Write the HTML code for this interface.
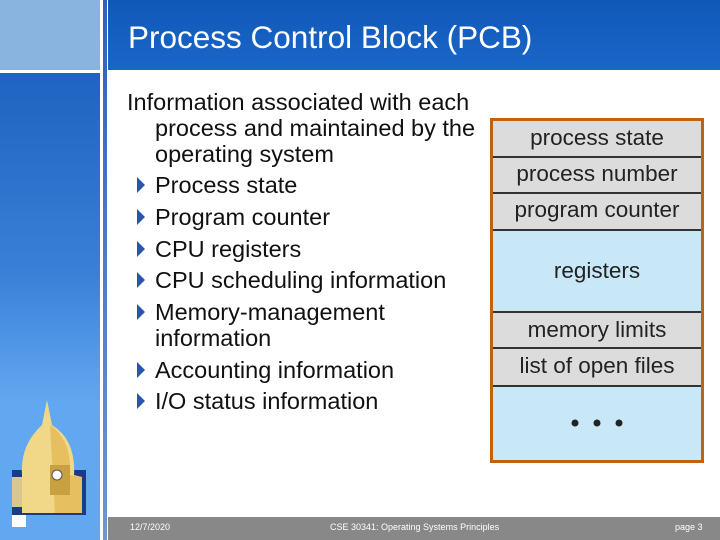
<!DOCTYPE html>
<html><head><style>
*{margin:0;padding:0}
body{width:720px;height:540px;position:relative;background:#fff;overflow:hidden;font-family:"Liberation Sans",sans-serif}
.a{position:absolute}
.t{position:absolute;font-size:23.5px;color:#111;white-space:nowrap;line-height:26px}
.b{position:absolute;width:0;height:0;border-top:8px solid transparent;border-bottom:8px solid transparent;border-left:8px solid #2a55a8}
.r{position:absolute;left:0;width:208px;text-align:center;font-size:22.5px;color:#222;border-bottom:2px solid #333;box-sizing:border-box}
</style></head><body>
<div class="a" style="left:0;top:0;width:100px;height:70px;background:#8ab4e0"></div>
<div class="a" style="left:0;top:73px;width:100px;height:467px;background:linear-gradient(#1e64c0 0px,#3a80d8 200px,#62a8f0 330px,#62a8f0 467px)"></div>
<div class="a" style="left:103px;top:0;width:4px;height:540px;background:linear-gradient(#2a64b8,#6a98d0)"></div>
<div class="a" style="left:108px;top:0;width:612px;height:70px;background:linear-gradient(#1058b8,#1a66c8)"></div>
<div class="a" style="left:128px;top:19px;font-size:31.5px;color:#fff;white-space:nowrap">Process Control Block (PCB)</div>
<svg class="a" style="left:10px;top:395px" width="80" height="135">
<rect x="2" y="120" width="14" height="12" fill="#fff"/>
<rect x="2" y="75" width="74" height="45" fill="#1a3a8a"/>
<rect x="2" y="82" width="10" height="30" fill="#d8c890"/>
<path d="M37 5 L42 30 Q66 45 64 80 L72 82 L72 118 L12 118 L12 80 Q10 50 32 30 Z" fill="#f0d888"/>
<path d="M40 30 Q62 45 60 80 L72 82 L72 118 L45 118 Z" fill="#e6c060"/>
<rect x="40" y="70" width="20" height="30" fill="#c8a040"/>
<circle cx="47" cy="80" r="5" fill="#fff" stroke="#555"/>
</svg>
<div class="t" style="left:127px;top:89px">Information associated with each</div>
<div class="t" style="left:155px;top:115px">process and maintained by the</div>
<div class="t" style="left:155px;top:141px">operating system</div>
<div class="b" style="left:137px;top:177px"></div><div class="t" style="left:155px;top:172px">Process state</div>
<div class="b" style="left:137px;top:209px"></div><div class="t" style="left:155px;top:204px">Program counter</div>
<div class="b" style="left:137px;top:241px"></div><div class="t" style="left:155px;top:236px">CPU registers</div>
<div class="b" style="left:137px;top:272px"></div><div class="t" style="left:155px;top:267px">CPU scheduling information</div>
<div class="b" style="left:137px;top:304px"></div><div class="t" style="left:155px;top:299px">Memory-management</div>
<div class="t" style="left:155px;top:325px">information</div>
<div class="b" style="left:137px;top:362px"></div><div class="t" style="left:155px;top:357px">Accounting information</div>
<div class="b" style="left:137px;top:393px"></div><div class="t" style="left:155px;top:388px">I/O status information</div>
<div class="a" style="left:490px;top:118px;width:208px;height:339px;border:3px solid #c0620e;background:#c8e8f8">
 <div class="r" style="top:0;height:37px;line-height:33px;background:#dcdcdc">process state</div>
 <div class="r" style="top:37px;height:36px;line-height:32px;background:#dcdcdc">process number</div>
 <div class="r" style="top:73px;height:37px;line-height:32px;background:#dcdcdc">program counter</div>
 <div class="r" style="top:110px;height:82px;line-height:80px">registers</div>
 <div class="r" style="top:192px;height:36px;line-height:34px;background:#dcdcdc">memory limits</div>
 <div class="r" style="top:228px;height:38px;line-height:34px;background:#dcdcdc">list of open files</div>
 <svg class="a" style="left:0;top:290px" width="208" height="20"><circle cx="82" cy="12" r="3.5" fill="#222"/><circle cx="104" cy="12" r="3.5" fill="#222"/><circle cx="126" cy="12" r="3.5" fill="#222"/></svg>
</div>
<div class="a" style="left:108px;top:517px;width:612px;height:23px;background:#888"></div>
<div class="a" style="left:130px;top:522px;font-size:9px;color:#fff">12/7/2020</div>
<div class="a" style="left:330px;top:522px;font-size:9px;color:#fff">CSE 30341: Operating Systems Principles</div>
<div class="a" style="left:675px;top:522px;font-size:9px;color:#fff">page 3</div>
</body></html>
